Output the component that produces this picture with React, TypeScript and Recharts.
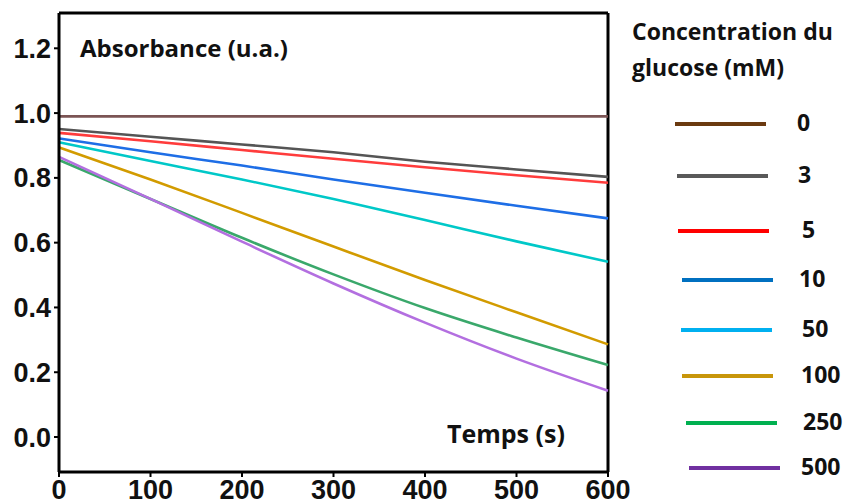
import React from "react";
import { LineChart, Line, XAxis, YAxis, ReferenceLine } from "recharts";

// temps (s)
const times = [0, 100, 200, 300, 400, 500, 600];

// absorbance par concentration de glucose (mM)
const conc = ["0", "3", "5", "10", "50", "100", "250", "500"];
const abs0 = [0.99, 0.99, 0.99, 0.99, 0.99, 0.99, 0.99];
const abs3 = [0.951, 0.927, 0.903, 0.879, 0.85, 0.826, 0.803];
const abs5 = [0.939, 0.913, 0.886, 0.859, 0.833, 0.808, 0.785];
const abs10 = [0.922, 0.879, 0.838, 0.795, 0.754, 0.714, 0.675];
const abs50 = [0.91, 0.852, 0.795, 0.735, 0.67, 0.604, 0.541];
const abs100 = [0.894, 0.795, 0.692, 0.588, 0.485, 0.385, 0.286];
const abs250 = [0.855, 0.735, 0.615, 0.502, 0.398, 0.307, 0.222];
const abs500 = [0.865, 0.735, 0.603, 0.474, 0.353, 0.242, 0.143];

const xTicks = [0, 100, 200, 300, 400, 500, 600];
const yTicks = [0, 0.2, 0.4, 0.6, 0.8, 1.0, 1.2];

const series = [abs0, abs3, abs5, abs10, abs50, abs100, abs250, abs500];
const lineColors = ["#7b5454", "#555555", "#ff3c3c", "#1e6ee6", "#00c8c8", "#d29b00", "#3aa86b", "#b36fe0"];
const legendColors = ["#6b3a10", "#595959", "#ff0000", "#0070c0", "#00b0f0", "#c8960a", "#00b050", "#7030a0"];
// legend row layout (line y, line x start, label x)
const legendRows = [
  [124, 675, 797],
  [176, 677, 798],
  [231, 678, 802],
  [280, 682, 799],
  [330, 681, 802],
  [376, 682, 801],
  [423, 686, 803],
  [468, 689, 801],
];

const Y_MIN = -0.108;
const Y_MAX = 1.309;

const data = times.map((t, i) => {
  const row: Record<string, number> = { t };
  conc.forEach((c, k) => {
    row["c" + c] = series[k][i];
  });
  return row;
});

const tickFont = {
  fontSize: 27,
  fontWeight: 700,
  fill: "#111",
  fontFamily: "'Liberation Sans', Arial, sans-serif",
};

const labelFont: React.CSSProperties = {
  position: "absolute",
  fontFamily: "'Open Sans', Lato, sans-serif",
  fontWeight: 700,
  color: "#111",
  whiteSpace: "nowrap",
  lineHeight: 1,
};

export default function App() {
  return (
    <div style={{ position: "absolute", left: 0, top: 0, width: 851, height: 504, background: "#fff" }}>
      <LineChart width={851} height={504} data={data} margin={{ top: 13, right: 243, left: 0, bottom: 2 }}>
        <XAxis
          dataKey="t"
          type="number"
          domain={[0, 600]}
          ticks={xTicks}
          height={30}
          tickSize={5}
          tickMargin={3}
          tick={tickFont}
          axisLine={{ stroke: "#000", strokeWidth: 3 }}
          tickLine={{ stroke: "#000", strokeWidth: 2 }}
        />
        <YAxis
          type="number"
          domain={[Y_MIN, Y_MAX]}
          ticks={yTicks}
          allowDataOverflow
          width={59}
          tickSize={5}
          tickMargin={3}
          tick={tickFont}
          tickFormatter={(v: number) => v.toFixed(1)}
          axisLine={{ stroke: "#000", strokeWidth: 3 }}
          tickLine={{ stroke: "#000", strokeWidth: 2 }}
        />
        <ReferenceLine y={Y_MAX} stroke="#000" strokeWidth={3} />
        <ReferenceLine x={600} stroke="#000" strokeWidth={3} />
        {conc.map((c, k) => (
          <Line
            key={c}
            dataKey={"c" + c}
            type="monotone"
            stroke={lineColors[k]}
            strokeWidth={2.6}
            dot={false}
            isAnimationActive={false}
          />
        ))}
      </LineChart>

      <div style={{ ...labelFont, left: 80, top: 36, fontSize: 24 }}>Absorbance (u.a.)</div>
      <div style={{ ...labelFont, left: 447, top: 421, fontSize: 25 }}>Temps (s)</div>

      <div style={{ ...labelFont, left: 632, top: 20, fontSize: 23 }}>Concentration du</div>
      <div style={{ ...labelFont, left: 632, top: 56, fontSize: 23 }}>glucose (mM)</div>
      {conc.map((c, k) => {
        const [y, x0, lx] = legendRows[k];
        return (
          <React.Fragment key={c}>
            <div
              style={{
                position: "absolute",
                left: x0,
                top: y - 2,
                width: 91,
                height: 4,
                background: legendColors[k],
              }}
            />
            <div style={{ ...labelFont, left: lx, top: y - 13, fontSize: 23 }}>{c}</div>
          </React.Fragment>
        );
      })}
    </div>
  );
}
